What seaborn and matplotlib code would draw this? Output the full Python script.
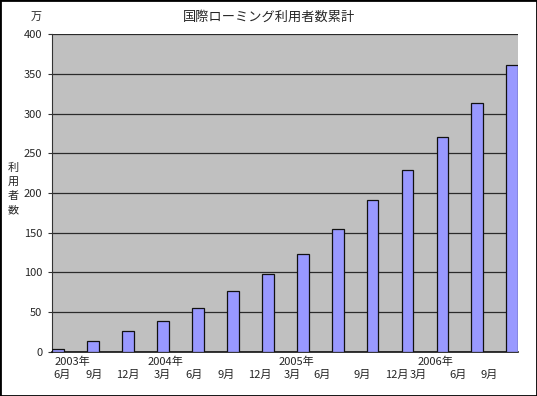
import pandas as pd
import matplotlib
matplotlib.use("Agg")
import matplotlib.pyplot as plt
import seaborn as sns
from matplotlib.patches import Rectangle

# data (unit: 万人)
periods = ["2003-06", "2003-09", "2003-12", "2004-03", "2004-06", "2004-09", "2004-12",
           "2005-03", "2005-06", "2005-09", "2005-12", "2006-03", "2006-06", "2006-09"]
users = [4, 14, 26, 39, 55, 76, 98, 123, 154, 191, 229, 271, 313, 361]
month_labels = ["6月", "9月", "12月", "3月", "6月", "9月", "12月",
                "3月", "6月", "9月", "12月", "3月", "6月", "9月"]
year_labels = ["2003年", "2004年", "2005年", "2006年"]

# where the hand-placed axis labels sit (in bar slots)
month_label_pos = [0.13, 1.03, 2.0, 2.99, 3.89, 4.8, 5.77, 6.69, 7.57, 8.71, 9.69, 10.31, 11.46, 12.34]
year_label_pos = [-0.09, 2.57, 6.31, 10.29]

df = pd.DataFrame({"period": periods, "users": users})

sns.set_style("white")
plt.rcParams["font.family"] = ["Noto Sans CJK JP", "DejaVu Sans"]

fig = plt.figure(figsize=(5.37, 3.96), dpi=100)
ax = fig.add_axes([0.0968, 0.1119, 0.8684, 0.8015])
ax.set_facecolor("#C0C0C0")

bar_w = 0.34
sns.barplot(data=df, x="period", y="users", color="#9999FF", saturation=1,
            width=bar_w, edgecolor="#111111", linewidth=0.9, ax=ax, zorder=3)

ax.set_ylim(0, 400)
ax.set_yticks(range(0, 401, 50))
ax.set_xlim(-bar_w / 2, len(periods) - 1 + bar_w / 2)
ax.yaxis.grid(True, color="#2a2a2a", linewidth=0.9)
ax.set_axisbelow(True)

for side in ["top", "right"]:
    ax.spines[side].set_visible(False)
ax.spines["left"].set_color("#333333")
ax.spines["bottom"].set_color("#111111")
ax.spines["bottom"].set_linewidth(1.2)

ax.tick_params(axis="y", left=True, length=3, width=0.8, color="#333333",
               labelsize=8, pad=4)
ax.set_xticks(month_label_pos)
ax.set_xticklabels(month_labels, fontsize=8)
ax.tick_params(axis="x", bottom=False, length=0, pad=13)
ax.set_xlabel("")
ax.set_ylabel("")

for pos, lab in zip(year_label_pos, year_labels):
    ax.text(pos, -0.031, lab, transform=ax.get_xaxis_transform(),
            ha="left", va="center", fontsize=8)

fig.text(0.5, 0.957, "国際ローミング利用者数累計", ha="center", va="center", fontsize=9.5)
fig.text(0.067, 0.957, "万", ha="center", va="center", fontsize=8)
fig.text(0.024, 0.523, "利\n用\n者\n数", ha="center", va="center",
         fontsize=8, linespacing=1.5)

fig.add_artist(Rectangle((0, 0), 1, 1, transform=fig.transFigure, fill=False,
                         edgecolor="black", linewidth=2))

fig.savefig("out.png", dpi=100)
